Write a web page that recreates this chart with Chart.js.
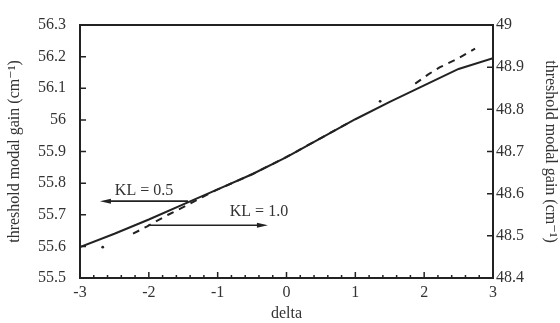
<!DOCTYPE html>
<html>
<head>
<meta charset="utf-8">
<script src="https://cdn.jsdelivr.net/npm/chart.js@4"></script>
<style>
  body { margin: 0; background: #fff; }
</style>
</head>
<body>
<canvas id="gainChart" width="560" height="323"></canvas>
<script>
// KL = 0.5, solid line, left axis
const deltaSolid = [-3, -2.5, -2, -1.5, -1, -0.5, 0, 0.5, 1, 1.5, 2, 2.5, 3];
const gainSolid = [55.598, 55.64, 55.685, 55.733, 55.78, 55.828, 55.882, 55.942, 56.002, 56.057, 56.109, 56.161, 56.195];

// KL = 1.0, dashed line, right axis (null = gap in the trace)
const deltaDashed = [-2.67, -2.45, -2.23, -2.03, -1.72, -1.45, -1.26, -1, -0.5, 0, 0.5, 0.9, 1.15, 1.36, 1.6, 1.87, 2.06, 2.23, 2.45, 2.74];
const gainDashed = [48.473, null, 48.505, 48.522, 48.55, 48.572, 48.589, 48.61, 48.646, 48.687, 48.732, 48.768, null, 48.819, null, 48.861, 48.883, 48.9, 48.917, 48.944];

const xTicks = [-3, -2, -1, 0, 1, 2, 3];
const leftRange = [55.5, 56.3];
const rightRange = [48.4, 49];

const labels = ['KL = 0.5', 'KL = 1.0'];

const ink = '#222';
const textInk = '#333';
const serif = "'Liberation Serif', 'DejaVu Serif', serif";

// label text + arrow for each curve, in data units of the left axis
const notes = [
    { text: labels[0], tx: -2.07, ty: 55.775, from: [-1.43, 55.743], to: [-2.71, 55.743] },
    { text: labels[1], tx: -0.40, ty: 55.709, from: [-2.01, 55.667], to: [-0.27, 55.667] }
];

const frameAndTicks = {
    id: 'frameAndTicks',
    afterDraw(chart) {
        const { ctx, chartArea: a, scales } = chart;
        ctx.save();
        ctx.strokeStyle = ink;
        ctx.lineWidth = 2;
        ctx.strokeRect(a.left, a.top, a.right - a.left, a.bottom - a.top);

        // inward ticks
        ctx.lineWidth = 1.5;
        ctx.beginPath();
        scales.y.ticks.forEach(t => {
            const y = scales.y.getPixelForValue(t.value);
            ctx.moveTo(a.left, y);
            ctx.lineTo(a.left + 6, y);
        });
        scales.y1.ticks.forEach(t => {
            const y = scales.y1.getPixelForValue(t.value);
            ctx.moveTo(a.right, y);
            ctx.lineTo(a.right - 6, y);
        });
        for (let i = 0; i <= 30; i++) {
            const x = scales.x.getPixelForValue(-3 + i * 0.2);
            const len = i % 5 === 0 ? 6 : 3;
            ctx.moveTo(x, a.bottom);
            ctx.lineTo(x, a.bottom - len);
        }
        ctx.stroke();

        // annotations
        ctx.fillStyle = ink;
        ctx.lineWidth = 1.6;
        ctx.font = '16px ' + serif;
        ctx.textAlign = 'center';
        ctx.textBaseline = 'middle';
        notes.forEach(n => {
            const x0 = scales.x.getPixelForValue(n.from[0]);
            const x1 = scales.x.getPixelForValue(n.to[0]);
            const y0 = scales.y.getPixelForValue(n.from[1]);
            const y1 = scales.y.getPixelForValue(n.to[1]);
            const dir = Math.sign(x1 - x0);
            ctx.beginPath();
            ctx.moveTo(x0, y0);
            ctx.lineTo(x1 - dir * 8, y1);
            ctx.stroke();
            ctx.beginPath();
            ctx.moveTo(x1, y1);
            ctx.lineTo(x1 - dir * 11, y1 - 2.5);
            ctx.lineTo(x1 - dir * 11, y1 + 2.5);
            ctx.closePath();
            ctx.fill();
            ctx.fillStyle = textInk;
            ctx.fillText(n.text, scales.x.getPixelForValue(n.tx), scales.y.getPixelForValue(n.ty));
            ctx.fillStyle = ink;
        });
        ctx.restore();
    }
};

function isolatedRadius(c) {
    const d = c.dataset.data;
    const i = c.dataIndex;
    if (d[i].y === null) return 0;
    const prevGap = i === 0 || d[i - 1].y === null;
    const nextGap = i === d.length - 1 || d[i + 1].y === null;
    return prevGap && nextGap ? 1.4 : 0;
}

const tickFont = { family: serif, size: 16 };
const titleFont = { family: serif, size: 16 };

new Chart(document.getElementById('gainChart'), {
    type: 'line',
    data: {
        datasets: [
            {
                label: labels[0],
                data: deltaSolid.map((d, i) => ({ x: d, y: gainSolid[i] })),
                yAxisID: 'y',
                borderColor: ink,
                borderWidth: 2,
                pointRadius: 0,
                tension: 0
            },
            {
                label: labels[1],
                data: deltaDashed.map((d, i) => ({ x: d, y: gainDashed[i] })),
                yAxisID: 'y1',
                borderColor: ink,
                borderWidth: 2,
                borderDash: [7, 6],
                pointRadius: isolatedRadius,
                pointBackgroundColor: ink,
                pointBorderWidth: 0,
                spanGaps: false,
                tension: 0
            }
        ]
    },
    options: {
        responsive: false,
        animation: false,
        layout: { padding: { top: 25 } },
        plugins: {
            legend: { display: false },
            tooltip: { enabled: false }
        },
        scales: {
            x: {
                type: 'linear',
                min: xTicks[0],
                max: xTicks[xTicks.length - 1],
                afterBuildTicks: s => { s.ticks = xTicks.map(v => ({ value: v })); },
                afterFit: s => { s.height = 45; },
                grid: { display: false, drawTicks: false },
                border: { color: ink, width: 2 },
                ticks: { font: tickFont, color: textInk, padding: 5, maxRotation: 0 },
                title: { display: true, text: 'delta', font: titleFont, color: textInk, padding: { top: 0, bottom: 0 } }
            },
            y: {
                position: 'left',
                min: leftRange[0],
                max: leftRange[1],
                afterFit: s => { s.width = 80; },
                grid: { display: false, drawTicks: false },
                border: { color: ink, width: 2 },
                ticks: {
                    stepSize: 0.1,
                    font: tickFont,
                    color: textInk,
                    padding: 14,
                    callback: v => String(+v.toFixed(1))
                },
                title: { display: true, text: 'threshold modal gain (cm⁻¹)', font: titleFont, color: textInk, padding: { top: 5, bottom: 0 } }
            },
            y1: {
                position: 'right',
                min: rightRange[0],
                max: rightRange[1],
                afterFit: s => { s.width = 67; },
                grid: { display: false, drawTicks: false },
                border: { color: ink, width: 2 },
                ticks: {
                    stepSize: 0.1,
                    font: tickFont,
                    color: textInk,
                    padding: 3,
                    callback: v => String(+v.toFixed(1))
                },
                title: { display: true, text: 'threshold modal gain (cm⁻¹)', font: titleFont, color: textInk, padding: { top: 0, bottom: 0 } }
            }
        }
    },
    plugins: [frameAndTicks]
});
</script>
</body>
</html>
